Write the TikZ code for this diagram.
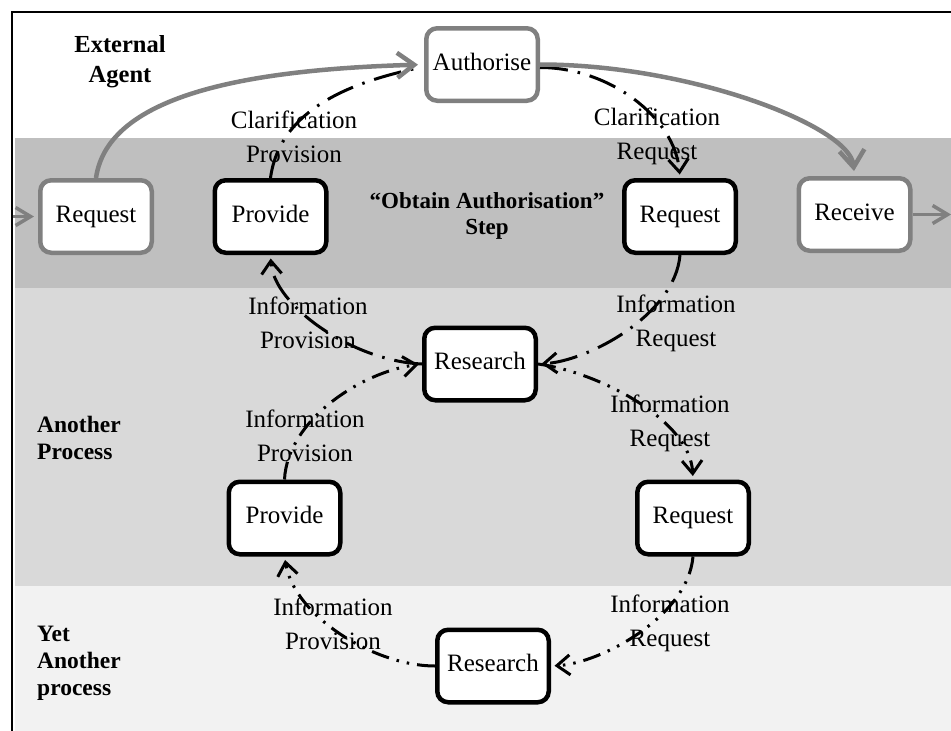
\documentclass[tikz,border=0pt]{standalone}
\usepackage{fontspec}
\setmainfont{Liberation Serif}
\usetikzlibrary{arrows.meta}

\definecolor{bandA}{HTML}{BFBFBF}
\definecolor{bandB}{HTML}{D9D9D9}
\definecolor{bandC}{HTML}{F2F2F2}
\definecolor{edgegrey}{HTML}{808080}

\tikzset{
  box/.style={draw, rounded corners=11pt, fill=white, line width=4.5pt,
    minimum width=111.5pt, minimum height=72.5pt, inner sep=0pt,
    font=\fontsize{25}{30}\selectfont, text height=17pt, text depth=5.4pt},
  ownbox/.style={box, draw=black},
  extbox/.style={box, draw=edgegrey},
  flowlabel/.style={inner sep=0pt, align=center, font=\fontsize{25}{34}\selectfont},
  lanelabel/.style={inner sep=0pt, font=\fontsize{23.5}{27}\selectfont\bfseries},
  msgA/.style={line width=3pt, dash pattern=on 28pt off 10pt on 2.5pt off 10pt},
  msgB/.style={line width=3pt, dash pattern=on 18pt off 8pt on 2.5pt off 8pt on 2.5pt off 8pt},
  tipb/.style={-{Straight Barb[length=13pt,width=20pt]}, shorten >=3.5pt},
  flow/.style={draw=edgegrey, line width=4.5pt, -{Straight Barb[length=17pt,width=25pt]}},
  flowshort/.style={draw=edgegrey, line width=3.5pt, -{Straight Barb[length=15pt,width=18pt]}},
}

\begin{document}
\begin{tikzpicture}[x=1pt,y=-1pt]
\useasboundingbox (0,0) rectangle (951,731);
\fill[white] (0,0) rectangle (951,731);

% swim lanes
\fill[bandA] (15,138) rectangle (951,288);
\fill[bandB] (15,288) rectangle (951,586);
\fill[bandC] (15,586) rectangle (951,731);
\draw[line width=1.5pt] (12,731) -- (12,12) -- (951,12);

% lane titles
\node[lanelabel, align=center, font=\fontsize{24.5}{30}\selectfont\bfseries] (lExt) at (120,61.5) {External\\Agent};
\node[lanelabel, align=center, font=\fontsize{23}{26}\selectfont\bfseries] (lStep) at (487,215.5) {“Obtain Authorisation”\\Step};
\node[lanelabel, align=left, anchor=west] (lAnother) at (37,437.7) {Another\\Process};
\node[lanelabel, align=left, anchor=west] (lYet) at (37,662.8) {Yet\\Another\\process};

% activities
\node[extbox] (req0) at (96,216.5) {Request};
\node[ownbox] (prov1) at (270.5,216.5) {Provide};
\node[extbox] (auth) at (482,64.5) {Authorise};
\node[ownbox] (req1) at (680,216.5) {Request};
\node[extbox] (recv) at (854.5,214.5) {Receive};
\node[ownbox] (res2) at (480,364) {Research};
\node[ownbox] (prov2) at (284.5,518) {Provide};
\node[ownbox] (req2) at (693,518) {Request};
\node[ownbox] (res3) at (493,666) {Research};

% message labels
\node[flowlabel] (tCP) at (294,137) {Clarification\\Provision};
\node[flowlabel] (tCR) at (657,136) {Clarification\\Request};
\node[flowlabel] (tIP1) at (308,323) {Information\\Provision};
\node[flowlabel] (tIR1) at (676,323) {Information\\Request};
\node[flowlabel] (tIP2) at (305,436) {Information\\Provision};
\node[flowlabel] (tIR2) at (670,423) {Information\\Request};
\node[flowlabel] (tIP3) at (333,624) {Information\\Provision};
\node[flowlabel] (tIR3) at (670,623) {Information\\Request};

% messages
\draw[msgA] (prov1.north) .. controls +(10,-75) and +(-55,12) .. ([xshift=-4pt,yshift=-3pt]auth.west);
\draw[msgA, tipb] ([yshift=-3pt]auth.east) .. controls +(70,0) and +(-5,-60) .. (req1.north);
\draw[msgA, tipb] (req1.south) .. controls +(-5,60) and +(50,-3) .. (res2.east);
\draw[msgB, tipb] (res2.east) .. controls +(60,8) and +(-3,-60) .. (req2.north);
\draw[msgB, tipb] (req2.south) .. controls +(-5,60) and +(50,-3) .. (res3.east);
\draw[msgB, tipb] (res3.west) .. controls +(-60,0) and +(10,60) .. (prov2.south);
\draw[msgB, tipb] (prov2.north) .. controls +(3,-60) and +(-60,8) .. (res2.west);
\draw[msgA, tipb] (res2.west) .. controls +(-70,-3) and +(3,50) .. (prov1.south);

% main flow
\coordinate (inL) at (12.75,216.5);
\coordinate (outR) at (951,214.5);
\draw[flowshort, shorten >=4pt] (inL) -- (req0.west);
\draw[flowshort] (recv.east) -- (outR);
\draw[flow, shorten >=6pt] (req0.north) .. controls +(12,-85) and +(-170,5) .. (auth.west);
\draw[flow, shorten >=5pt] (auth.east) .. controls +(150,0) and +(-5,-50) .. (recv.north);
\end{tikzpicture}
\end{document}
